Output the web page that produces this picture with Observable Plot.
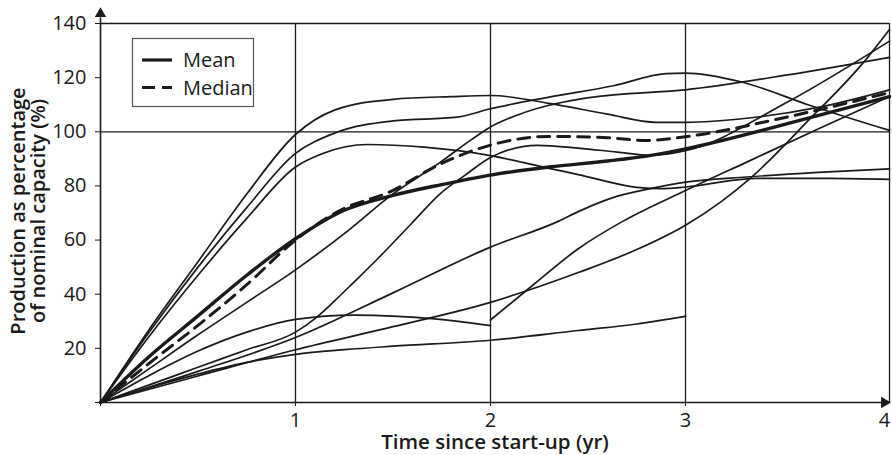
<!DOCTYPE html>
<html><head><meta charset="utf-8">
<script src="https://cdn.jsdelivr.net/npm/d3@7"></script>
<script src="https://cdn.jsdelivr.net/npm/@observablehq/plot@0.6"></script>
<style>
html,body{margin:0;padding:0;background:#fff;}
#chart{position:relative;width:892px;height:455px;}
</style></head><body><div id="chart"></div>
<script>
// ---- data (years, % of nominal capacity) ----
const meanPts   = [[0,0],[0.25,17],[0.5,32],[0.75,47],[1,60.5],[1.25,71],[1.5,76.5],[1.75,80.5],[2,84],[2.3,87],[2.6,89.2],[2.8,91],[3,93.7],[3.5,103],[4,113]];
const medianPts = [[0,0],[0.25,14.5],[0.5,28.5],[0.75,43.5],[1,60],[1.23,71],[1.49,78],[1.74,88],[2.05,96],[2.3,98.3],[2.6,97.8],[2.8,96.8],[3,98.2],[3.5,105.5],[4,114.5]];
const lineA = [[0,0],[0.25,27],[0.5,52],[0.75,77],[1,99],[1.2,108],[1.5,112],[1.8,113],[2,113.4],[2.3,110.5],[2.6,106.5],[2.85,103.5],[3,103.5],[3.3,105],[3.65,109],[4,115.5]];
const lineB = [[0,0],[0.25,26],[0.5,50],[0.75,72],[1,92],[1.2,99.5],[1.5,104],[1.83,105.4],[2,108.5],[2.3,112.8],[2.63,117],[2.9,121.5],[3,121.7],[3.28,118.3],[3.6,110],[4,100.5]];
const lineC = [[0,0],[0.25,24.5],[0.5,47],[0.75,68],[1,87],[1.14,92],[1.37,95.3],[1.66,94.3],[2,91.2],[2.3,86.5],[2.45,84.2],[2.75,79.5],[2.88,79],[3,79.6],[3.35,82.8],[3.7,82.8],[4,82.4]];
const lineH = [[0,0],[0.25,12.5],[0.5,25],[0.75,37],[1,49],[1.27,63.5],[1.49,76.5],[1.74,88.6],[1.9,97],[2,101.8],[2.15,106.5],[2.29,109.6],[2.45,112],[2.63,113.6],[3,115.5],[3.5,121],[4,127.5]];
const lineE = [[0,0],[0.25,6.5],[0.5,13],[0.75,19.5],[1,26],[1.1,31],[1.2,37.5],[1.3,44.5],[1.42,53],[1.6,66.5],[1.74,77],[1.87,84],[2,90.5],[2.24,95],[2.45,94],[2.65,92.5],[2.82,91.3],[3,93],[3.5,111],[4,133.5]];
const lineD = [[0,0],[0.5,11.5],[1,24],[1.5,40.5],[2,57.4],[2.35,67],[2.45,70.5],[2.62,75.5],[2.82,79],[3,81.4],[3.3,83.3],[3.65,85],[4,86.3]];
const lineF = [[0,0],[0.5,9.8],[1,19.5],[1.5,28],[2,37],[2.45,48],[2.75,56.5],[3,65.5],[3.18,74.5],[3.32,83],[3.6,104],[3.88,126.3],[4,137.8]];
const lineI = [[0,0],[0.25,5.5],[0.5,10.5],[0.75,14.8],[1,17.8],[1.25,19.5],[1.5,20.8],[2,23],[2.45,26.6],[2.75,29],[3,31.8]];
const lineJ = [[0,0],[0.25,10],[0.5,19],[0.75,26],[1,30.7],[1.3,32.3],[1.7,31],[2,28.4]];
const lineG = [[2,30.5],[2.22,43.5],[2.45,56.8],[2.68,67],[3,78.3],[3.3,88.8],[3.65,101],[4,113]];

const xTicksInner = [0,1,2,3];
const xTicksEnd = [4];
const yTicks = [0,20,40,60,80,100,120,140];
const gridX = [1,2,3,4];
const gridY = [100,140];
const legendLabels = ["Mean","Median"];
const xTitle = "Time since start-up (yr)";
const yTitle = ["Production as percentage","of nominal capacity (%)"];

// ---- build tables ----
const individual = [lineA,lineB,lineC,lineH,lineE,lineD,lineF,lineI,lineJ,lineG];
const rows = individual.flatMap((pts,i)=>pts.map(([x,y])=>({id:i,x,y})));
const meanRows = meanPts.map(([x,y])=>({x,y}));
const medianRows = medianPts.map(([x,y])=>({x,y}));

const ink = "#1a1a1a";
const font = "'Open Sans', 'DejaVu Sans', sans-serif";
const fmt = d => d === 0 ? "" : d;

const chart = Plot.plot({
  width: 892, height: 455,
  marginLeft: 100, marginRight: 3, marginTop: 23, marginBottom: 53,
  style: {fontFamily: font, fontSize: "20px", color: ink, background: "#fff", overflow: "visible"},
  x: {type: "linear", domain: [0,3,4], range: [100,685,889]},
  y: {domain: [0,140], range: [402,23]},
  marks: [
    Plot.ruleX(gridX, {y1: 0, y2: 140, stroke: ink, strokeWidth: 1.3}),
    Plot.ruleY(gridY, {x1: 0, x2: 4, stroke: ink, strokeWidth: 1.3}),
    Plot.line(rows, {x: "x", y: "y", z: "id", curve: "monotone-x", stroke: ink, strokeWidth: 1.7}),
    Plot.line(medianRows, {x: "x", y: "y", curve: "monotone-x", stroke: ink, strokeWidth: 3, strokeDasharray: "12,8"}),
    Plot.line(meanRows, {x: "x", y: "y", curve: "monotone-x", stroke: ink, strokeWidth: 3.4}),
    Plot.ruleX([0], {y1: 0, y2: 142, stroke: ink, strokeWidth: 1.6}),
    Plot.ruleY([0], {x1: 0, x2: 4, stroke: ink, strokeWidth: 1.6}),
    Plot.dot([{x: 0, y: 143.6}], {x: "x", y: "y", symbol: "triangle", r: 4.2, fill: ink, stroke: null}),
    Plot.dot([{x: 3.975, y: 0}], {x: "x", y: "y", symbol: "triangle", r: 4.2, fill: ink, stroke: null, rotate: 90}),
    Plot.axisX({ticks: xTicksInner, tickSize: 4, tickPadding: 6, tickFormat: fmt, fontSize: 20, label: null}),
    Plot.axisX({ticks: xTicksEnd, tickSize: 0, tickPadding: 10, tickFormat: fmt, fontSize: 20, label: null, dx: -5}),
    Plot.axisY({ticks: yTicks, tickSize: 5, tickPadding: 9, tickFormat: fmt, fontSize: 20, label: null}),
    Plot.text([xTitle], {frameAnchor: "bottom", dy: 46, fontWeight: 600, fontSize: 20.5}),
    Plot.text([yTitle[0]], {frameAnchor: "left", textAnchor: "middle", dx: -82, dy: -2, rotate: -90, fontWeight: 600, fontSize: 20}),
    Plot.text([yTitle[1]], {frameAnchor: "left", textAnchor: "middle", dx: -62, dy: -2, rotate: -90, fontWeight: 600, fontSize: 20})
  ]
});
document.getElementById("chart").appendChild(chart);

// ---- legend box ----
const svg = d3.select(chart);
const g = svg.append("g").attr("font-family", font).attr("font-size", 20).attr("fill", ink).attr("text-anchor", "start");
g.append("rect").attr("x", 132.5).attr("y", 38.5).attr("width", 121).attr("height", 68)
  .attr("fill", "#fff").attr("stroke", "#555").attr("stroke-width", 1.2);
const styles = [{w: 3.2, dash: null}, {w: 3, dash: "13,7"}];
legendLabels.forEach((lab, i) => {
  const yy = 60 + i * 27.5;
  const ln = g.append("line").attr("x1", 142).attr("x2", 172).attr("y1", yy).attr("y2", yy)
    .attr("stroke", ink).attr("stroke-width", styles[i].w);
  if (styles[i].dash) ln.attr("stroke-dasharray", styles[i].dash);
  g.append("text").attr("x", 183).attr("y", yy).attr("dy", "0.35em").attr("text-anchor", "start").text(lab);
});
</script>
</body></html>
